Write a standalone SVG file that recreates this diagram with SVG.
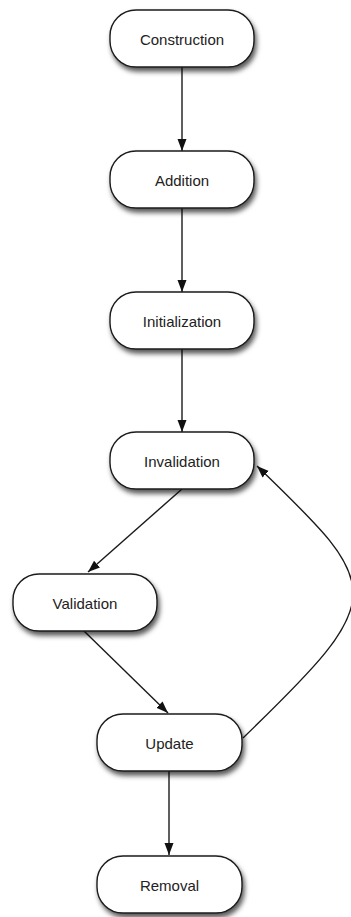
<svg xmlns="http://www.w3.org/2000/svg" width="351" height="917" viewBox="0 0 351 917">
<style>
.node rect{fill:#fff;stroke:#1a1a1a;stroke-width:1.4;filter:url(#sh)}
.node text{font-family:"Liberation Sans",Arial,sans-serif;font-size:15px;fill:#222;text-anchor:middle;dominant-baseline:central}
.edge{fill:none;stroke:#1a1a1a;stroke-width:1.4;marker-end:url(#ah)}
</style>
<defs>
<filter id="sh" x="-20%" y="-30%" width="150%" height="180%">
<feDropShadow dx="2" dy="4" stdDeviation="2.5" flood-color="#000" flood-opacity="0.65"/>
</filter>
<marker id="ah" viewBox="0 0 12 10" refX="12" refY="5" markerWidth="12" markerHeight="10" markerUnits="userSpaceOnUse" orient="auto">
<path d="M0,0.5 L12,5 L0,9.5 Z" fill="#111"/>
</marker>
</defs>
<rect width="351" height="917" fill="#fff"/>
<g id="connectors">
<path class="edge" d="M182,67 L182,151"/>
<path class="edge" d="M182,208 L182,292"/>
<path class="edge" d="M182,349 L182,432"/>
<path class="edge" d="M182,489 L88,572"/>
<path class="edge" d="M84,631 L168,713"/>
<path class="edge" d="M169,771 L169,855"/>
<path class="edge" d="M243,738 C390,596 385,589 257,466"/>
</g>
<g id="construction" class="node"><rect x="110" y="10" width="144" height="57" rx="26"/><text x="182" y="39">Construction</text></g>
<g id="addition" class="node"><rect x="110" y="151" width="144" height="57" rx="26"/><text x="182" y="180">Addition</text></g>
<g id="initialization" class="node"><rect x="110" y="292" width="144" height="57" rx="26"/><text x="182" y="321">Initialization</text></g>
<g id="invalidation" class="node"><rect x="110" y="432" width="144" height="57" rx="26"/><text x="182" y="461">Invalidation</text></g>
<g id="validation" class="node"><rect x="13" y="574" width="144" height="57" rx="26"/><text x="85" y="603">Validation</text></g>
<g id="update" class="node"><rect x="97" y="714" width="145" height="57" rx="26"/><text x="169.5" y="743">Update</text></g>
<g id="removal" class="node"><rect x="97" y="856" width="145" height="57" rx="26"/><text x="169.5" y="885">Removal</text></g>
</svg>
